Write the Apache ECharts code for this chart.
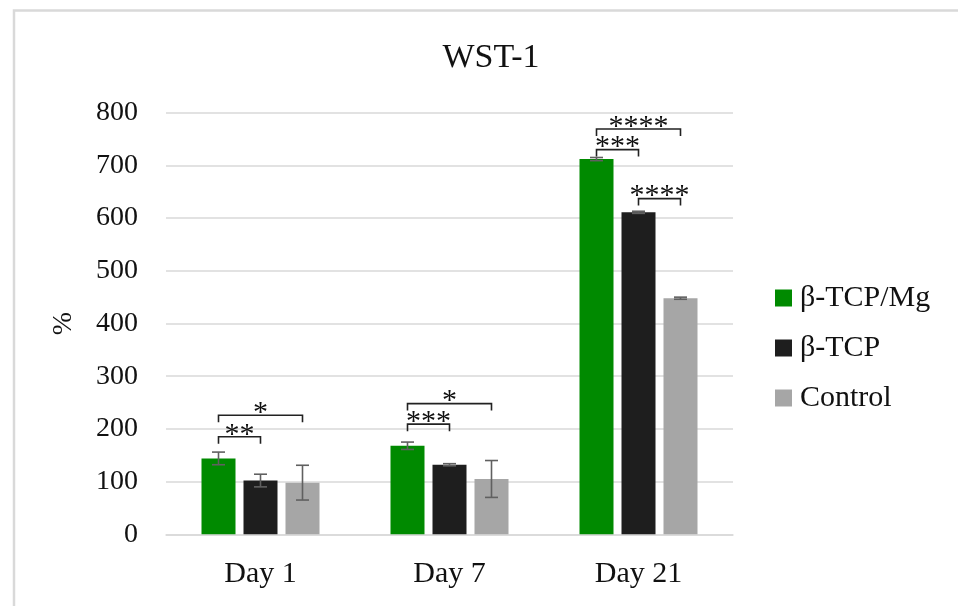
<!DOCTYPE html>
<html>
<head>
<meta charset="utf-8">
<style>
  html, body { margin: 0; padding: 0; background: #ffffff; }
  #chart { width: 958px; height: 606px; }
</style>
<script src="https://cdn.jsdelivr.net/npm/echarts@6/dist/echarts.min.js"></script>
</head>
<body>
<div id="chart"></div>
<script>
// WST-1 assay, % of reference, per group and time point
const categories = ['Day 1', 'Day 7', 'Day 21'];
const seriesNames = ['β-TCP/Mg', 'β-TCP', 'Control'];
const mgValues = [144, 168, 712];
const tcpValues = [102, 132, 611];
const controlValues = [98, 105, 448];
const mgErrors = [12, 7, 3];
const tcpErrors = [12, 2, 2];
const controlErrors = [33, 35, 2];
const yTicks = [0, 100, 200, 300, 400, 500, 600, 700, 800];

// significance brackets: [category, from group, to group, bracket height (%), stars]
const brackets = [
  [0, 0, 2, 226, '*'],
  [0, 0, 1, 185, '**'],
  [1, 0, 2, 248, '*'],
  [1, 0, 1, 209, '***'],
  [2, 0, 2, 769, '****'],
  [2, 0, 1, 730, '***'],
  [2, 1, 2, 637, '****']
];

const colors = ['#008a00', '#1e1e1e', '#a6a6a6'];
const FONT = "'Liberation Serif', 'Times New Roman', serif";
const BAR_W = 34;
const BAR_GAP = 8;
const STEP = BAR_W + BAR_GAP;

const valueSets = [mgValues, tcpValues, controlValues];
const errorSets = [mgErrors, tcpErrors, controlErrors];

const errorData = [];
valueSets.forEach((vals, s) => {
  vals.forEach((v, c) => errorData.push([c, s, v, errorSets[s][c]]));
});

const chart = echarts.init(document.getElementById('chart'), null, { renderer: 'canvas' });

const barSeries = seriesNames.map((name, i) => ({
  name: name,
  type: 'bar',
  data: valueSets[i],
  barWidth: BAR_W,
  barGap: (BAR_GAP / BAR_W * 100) + '%',
  itemStyle: { color: colors[i] },
  z: 2
}));

const option = {
  animation: false,
  backgroundColor: '#ffffff',
  title: {
    text: 'WST-1',
    left: 486,
    top: 36,
    textAlign: 'center',
    textStyle: { fontFamily: FONT, fontSize: 34, fontWeight: 'normal', color: '#111' }
  },
  graphic: [{
    type: 'rect',
    shape: { x: 14, y: 10.5, width: 1000, height: 700 },
    style: { fill: 'none', stroke: '#d9d9d9', lineWidth: 2.5 },
    silent: true,
    z: -1
  }],
  legend: {
    orient: 'vertical',
    left: 775,
    top: 281,
    padding: 0,
    itemWidth: 17,
    itemHeight: 17,
    itemGap: 16,
    icon: 'rect',
    data: seriesNames,
    textStyle: { fontFamily: FONT, fontSize: 30, color: '#111', lineHeight: 34, padding: [0, 0, 0, 3] }
  },
  grid: { left: 166, right: 225, top: 112.7, bottom: 71.7, containLabel: false },
  xAxis: {
    type: 'category',
    data: categories,
    axisTick: { show: false },
    axisLine: { lineStyle: { color: '#d9d9d9', width: 1.5 } },
    axisLabel: { fontFamily: FONT, fontSize: 30, color: '#111', margin: 25 }
  },
  yAxis: {
    type: 'value',
    min: yTicks[0],
    max: yTicks[yTicks.length - 1],
    interval: yTicks[1] - yTicks[0],
    name: '%',
    nameLocation: 'middle',
    nameRotate: 90,
    nameGap: 88,
    nameTextStyle: { fontFamily: FONT, fontSize: 28, color: '#111' },
    axisLine: { show: false },
    axisTick: { show: false },
    splitLine: { lineStyle: { color: '#d9d9d9', width: 1.5 } },
    axisLabel: { fontFamily: FONT, fontSize: 28, color: '#111', margin: 28 }
  },
  series: barSeries.concat([
    {
      name: 'errors',
      type: 'custom',
      data: errorData,
      z: 5,
      silent: true,
      renderItem: function (params, api) {
        const c = api.value(0), s = api.value(1), v = api.value(2), e = api.value(3);
        const base = api.coord([c, v]);
        const x = base[0] + (s - 1) * STEP;
        const yTop = api.coord([c, v + e])[1];
        const yBot = api.coord([c, v - e])[1];
        const cap = 6.5;
        const st = { stroke: '#606060', lineWidth: 1.6, fill: 'none' };
        return {
          type: 'group',
          children: [
            { type: 'line', shape: { x1: x, y1: yTop, x2: x, y2: yBot }, style: st },
            { type: 'line', shape: { x1: x - cap, y1: yTop, x2: x + cap, y2: yTop }, style: st },
            { type: 'line', shape: { x1: x - cap, y1: yBot, x2: x + cap, y2: yBot }, style: st }
          ]
        };
      }
    },
    {
      name: 'brackets',
      type: 'custom',
      data: brackets.map(b => [b[0], b[1], b[2], b[3]]),
      z: 6,
      silent: true,
      renderItem: function (params, api) {
        const c = api.value(0), a = api.value(1), b = api.value(2), h = api.value(3);
        const p = api.coord([c, h]);
        const x1 = p[0] + (a - 1) * STEP;
        const x2 = p[0] + (b - 1) * STEP;
        const y = p[1];
        const leg = 7;
        return {
          type: 'group',
          children: [
            {
              type: 'polyline',
              shape: { points: [[x1, y + leg], [x1, y], [x2, y], [x2, y + leg]] },
              style: { stroke: '#222', lineWidth: 1.6, fill: 'none' }
            },
            {
              type: 'text',
              style: {
                x: (x1 + x2) / 2,
                y: y + 13,
                text: brackets[params.dataIndex][4],
                align: 'center',
                verticalAlign: 'bottom',
                font: '30px ' + FONT,
                fill: '#111'
              }
            }
          ]
        };
      }
    }
  ])
};

chart.setOption(option);
</script>
</body>
</html>
